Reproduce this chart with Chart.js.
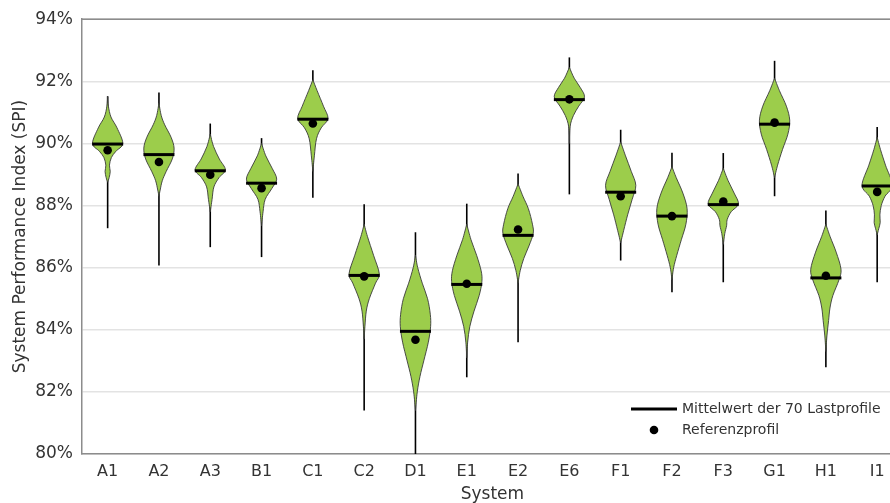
<!DOCTYPE html>
<html>
<head>
<meta charset="utf-8">
<script src="https://cdn.jsdelivr.net/npm/chart.js@4/dist/chart.umd.min.js"></script>
<style>
  body { margin: 0; overflow: hidden; background: #fff; }
</style>
</head>
<body>
<canvas id="chart" width="890" height="503"></canvas>
<script>
// Systeme und Kennwerte (SPI in %)
const systems = ['A1', 'A2', 'A3', 'B1', 'C1', 'C2', 'D1', 'E1', 'E2', 'E6', 'F1', 'F2', 'F3', 'G1', 'H1', 'I1'];
const meanValues = [89.98, 89.64, 89.12, 88.72, 90.78, 85.75, 83.95, 85.46, 87.04, 91.41, 88.43, 87.66, 88.03, 90.62, 85.67, 88.63];
const refValues = [89.78, 89.40, 88.99, 88.56, 90.64, 85.72, 83.68, 85.48, 87.23, 91.42, 88.30, 87.66, 88.13, 90.67, 85.74, 88.44];
const whiskerMax = [91.52, 91.64, 90.64, 90.17, 92.36, 88.04, 87.14, 88.06, 89.03, 92.77, 90.44, 89.70, 89.69, 92.66, 87.84, 90.53];
const whiskerMin = [87.27, 86.07, 86.66, 86.34, 88.25, 81.40, 80.00, 82.47, 83.60, 88.36, 86.23, 85.21, 85.53, 88.30, 82.79, 85.53];
const yTicks = [80, 82, 84, 86, 88, 90, 92, 94];

// Dichteprofil je System: [SPI, relative Breite]
const violinShapes = [
  [[91.5,0],[91.2,0.05],[90.85,0.22],[90.5,0.62],[90.0,1.0],[89.75,0.55],[89.55,0.25],[89.3,0.12],[89.1,0.17],[88.9,0.1],[88.75,0]],
  [[91.3,0],[90.9,0.15],[90.6,0.38],[90.2,0.8],[89.85,1.0],[89.5,0.88],[89.1,0.48],[88.8,0.22],[88.5,0.08],[88.3,0]],
  [[90.3,0],[89.9,0.22],[89.5,0.6],[89.15,1.0],[88.9,0.58],[88.6,0.24],[88.2,0.12],[87.8,0]],
  [[90.0,0],[89.6,0.28],[89.2,0.7],[88.85,1.0],[88.55,0.68],[88.2,0.24],[87.8,0.1],[87.35,0]],
  [[92.05,0],[91.7,0.28],[91.2,0.7],[90.8,1.0],[90.5,0.55],[90.15,0.24],[89.6,0.1],[89.1,0]],
  [[87.4,0],[87.0,0.22],[86.4,0.62],[85.8,1.0],[85.5,0.75],[85.0,0.34],[84.6,0.14],[84.1,0.05],[83.7,0]],
  [[86.4,0],[86.0,0.15],[85.5,0.45],[85.0,0.8],[84.5,0.98],[84.1,1.0],[83.6,0.85],[83.0,0.55],[82.5,0.3],[82.0,0.12],[81.4,0]],
  [[87.4,0],[86.9,0.28],[86.4,0.65],[85.9,0.95],[85.55,1.0],[85.1,0.82],[84.6,0.48],[84.1,0.2],[83.6,0.06],[83.1,0]],
  [[88.7,0],[88.3,0.32],[87.9,0.68],[87.4,0.95],[87.1,1.0],[86.7,0.72],[86.3,0.38],[85.9,0.14],[85.5,0]],
  [[92.45,0],[92.1,0.32],[91.8,0.72],[91.5,1.0],[91.2,0.62],[90.9,0.27],[90.55,0.05],[90.0,0]],
  [[90.05,0],[89.6,0.32],[89.1,0.7],[88.65,1.0],[88.2,0.76],[87.7,0.46],[87.2,0.2],[86.8,0]],
  [[89.25,0],[88.9,0.28],[88.4,0.72],[87.9,1.0],[87.4,0.92],[86.9,0.62],[86.4,0.32],[86.0,0.11],[85.6,0]],
  [[89.2,0],[88.8,0.32],[88.4,0.72],[88.05,1.0],[87.8,0.52],[87.55,0.26],[87.35,0.22],[87.1,0.1],[86.75,0]],
  [[92.1,0],[91.7,0.32],[91.2,0.78],[90.75,1.0],[90.3,0.88],[89.8,0.52],[89.3,0.2],[88.9,0]],
  [[87.4,0],[87.0,0.28],[86.5,0.68],[85.95,1.0],[85.6,0.86],[85.1,0.46],[84.7,0.27],[84.3,0.18],[83.8,0.07],[83.3,0]],
  [[90.2,0],[89.8,0.22],[89.3,0.55],[88.65,1.0],[88.3,0.52],[88.0,0.27],[87.7,0.18],[87.45,0.2],[87.25,0.1],[87.05,0]]
];

const legendLabels = ['Mittelwert der 70 Lastprofile', 'Referenzprofil'];

const FONT = '"DejaVu Sans", Verdana, sans-serif';
const GREEN = '#9ccd4b';
const xMax = 15.25; // rechter Rand schneidet die letzte Spalte leicht an

// glatte Kurve durch Punkte (Catmull-Rom)
function smoothPath(ctx, pts, moveFirst) {
  if (moveFirst) ctx.moveTo(pts[0][0], pts[0][1]); else ctx.lineTo(pts[0][0], pts[0][1]);
  for (let i = 0; i < pts.length - 1; i++) {
    const p0 = pts[Math.max(i - 1, 0)], p1 = pts[i], p2 = pts[i + 1], p3 = pts[Math.min(i + 2, pts.length - 1)];
    ctx.bezierCurveTo(
      p1[0] + (p2[0] - p0[0]) / 6, p1[1] + (p2[1] - p0[1]) / 6,
      p2[0] - (p3[0] - p1[0]) / 6, p2[1] - (p3[1] - p1[1]) / 6,
      p2[0], p2[1]);
  }
}

const violinPlugin = {
  id: 'violins',
  beforeDatasetsDraw(chart) {
    const ctx = chart.ctx;
    const xs = chart.scales.x, ys = chart.scales.y;
    const slot = xs.getPixelForValue(1) - xs.getPixelForValue(0);
    const half = slot * 0.295;
    ctx.save();
    for (let i = 0; i < systems.length; i++) {
      const cx = xs.getPixelForValue(i);
      // Whisker
      ctx.beginPath();
      ctx.strokeStyle = '#000';
      ctx.lineWidth = 1.6;
      ctx.moveTo(cx, ys.getPixelForValue(whiskerMax[i]));
      ctx.lineTo(cx, ys.getPixelForValue(whiskerMin[i]));
      ctx.stroke();
      // Violine
      const shape = violinShapes[i];
      const right = shape.map(p => [cx + p[1] * half, ys.getPixelForValue(p[0])]);
      const left = shape.map(p => [cx - p[1] * half, ys.getPixelForValue(p[0])]).reverse();
      ctx.beginPath();
      smoothPath(ctx, right, true);
      smoothPath(ctx, left, false);
      ctx.closePath();
      ctx.fillStyle = GREEN;
      ctx.fill();
      ctx.strokeStyle = '#3a3a3a';
      ctx.lineWidth = 0.9;
      ctx.stroke();
    }
    ctx.restore();
  },
  afterDraw(chart) {
    const ctx = chart.ctx;
    const a = chart.chartArea;
    const xs = chart.scales.x;
    ctx.save();
    // obere Rahmenlinie
    ctx.strokeStyle = '#8c8c8c';
    ctx.lineWidth = 1.5;
    ctx.beginPath();
    ctx.moveTo(a.left, a.top);
    ctx.lineTo(a.right, a.top);
    ctx.stroke();
    // Achsentitel x, mittig über alle Spalten
    ctx.fillStyle = '#333';
    ctx.font = '17px ' + FONT;
    ctx.textAlign = 'center';
    ctx.textBaseline = 'middle';
    const mid = (xs.getPixelForValue(-0.5) + xs.getPixelForValue(systems.length - 0.5)) / 2;
    ctx.fillText('System', mid, 495);
    // Legende
    const lx = a.right - 259, tx = a.right - 208;
    const y1 = a.bottom - 45, y2 = a.bottom - 24;
    ctx.strokeStyle = '#000';
    ctx.lineWidth = 3;
    ctx.beginPath();
    ctx.moveTo(lx, y1);
    ctx.lineTo(lx + 46, y1);
    ctx.stroke();
    ctx.fillStyle = '#000';
    ctx.beginPath();
    ctx.arc(lx + 23, y2, 4.3, 0, Math.PI * 2);
    ctx.fill();
    ctx.fillStyle = '#333';
    ctx.font = '14px ' + FONT;
    ctx.textAlign = 'left';
    ctx.fillText(legendLabels[0], tx, y1);
    ctx.fillText(legendLabels[1], tx, y2);
    ctx.restore();
  }
};

const ctx = document.getElementById('chart').getContext('2d');
new Chart(ctx, {
  type: 'scatter',
  data: {
    datasets: [
      {
        label: legendLabels[0],
        data: meanValues.map((v, i) => ({ x: i, y: v })),
        pointStyle: 'line',
        pointRadius: 15.5,
        pointHoverRadius: 15.5,
        pointBorderWidth: 3,
        pointBorderColor: '#000',
        pointBackgroundColor: '#000'
      },
      {
        label: legendLabels[1],
        data: refValues.map((v, i) => ({ x: i, y: v })),
        pointStyle: 'circle',
        pointRadius: 4.3,
        pointHoverRadius: 4.3,
        pointBorderWidth: 0,
        pointBackgroundColor: '#000'
      }
    ]
  },
  options: {
    responsive: false,
    animation: false,
    clip: false,
    layout: { autoPadding: false, padding: { top: 19, right: 0, left: 0, bottom: 0 } },
    plugins: {
      legend: { display: false },
      tooltip: { enabled: false }
    },
    scales: {
      x: {
        type: 'linear',
        min: -0.5,
        max: xMax,
        afterBuildTicks(scale) { scale.ticks = systems.map((s, i) => ({ value: i })); },
        grid: { display: false, drawTicks: false },
        border: { color: '#8c8c8c', width: 1.5 },
        ticks: { color: '#333', font: { family: FONT, size: 16 }, padding: 8, maxRotation: 0, autoSkip: false,
                 callback: v => systems[v] },
        afterFit(scale) { scale.height = 49; scale.paddingLeft = 0; scale.paddingRight = 0; }
      },
      y: {
        min: 80,
        max: 94,
        afterBuildTicks(scale) { scale.ticks = yTicks.map(v => ({ value: v })); },
        grid: { color: '#e3e3e3', lineWidth: 1.5, drawTicks: false },
        border: { color: '#8c8c8c', width: 1.5 },
        ticks: { color: '#333', font: { family: FONT, size: 17 }, padding: 9, callback: v => v + '%' },
        title: { display: true, text: 'System Performance Index (SPI)', color: '#333', font: { family: FONT, size: 17 }, padding: { top: 10, bottom: 0 } },
        afterFit(scale) { scale.width = 82; }
      }
    }
  },
  plugins: [violinPlugin]
});
</script>
</body>
</html>
